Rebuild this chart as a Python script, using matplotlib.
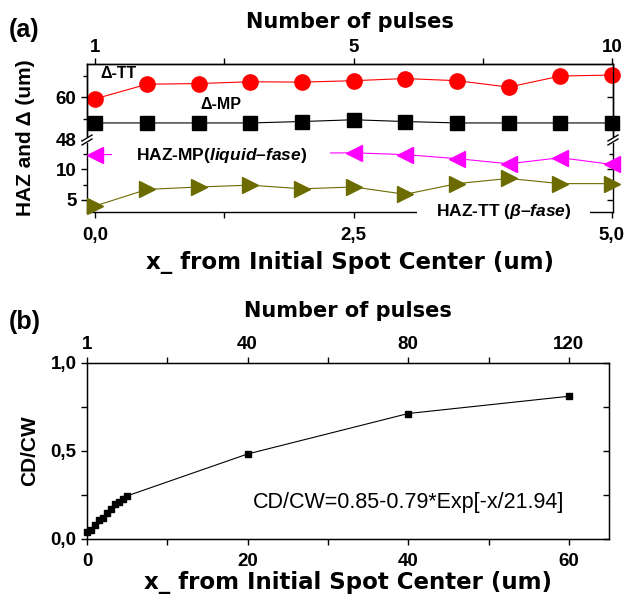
import numpy as np
import matplotlib
matplotlib.use('Agg')
import matplotlib.pyplot as plt
from matplotlib.lines import Line2D
from matplotlib.patches import Rectangle

plt.rcParams['font.family'] = ['Liberation Sans', 'DejaVu Sans']
plt.rcParams['font.weight'] = 'bold'
plt.rcParams['axes.labelweight'] = 'bold'
plt.rcParams['mathtext.fontset'] = 'custom'
plt.rcParams['mathtext.it'] = 'Liberation Sans:italic:bold'
plt.rcParams['mathtext.rm'] = 'Liberation Sans:bold'
plt.rcParams['mathtext.bf'] = 'Liberation Sans:bold'
wide = ['DejaVu Sans']

# ---- panel (a) data ----
x_a = [0.0, 0.5, 1.0, 1.5, 2.0, 2.5, 3.0, 3.5, 4.0, 4.5, 5.0]
delta_tt = [59.6, 63.7, 63.9, 64.4, 64.3, 64.7, 65.3, 64.7, 62.9, 66.0, 66.3]
delta_mp = [52.8, 52.8, 52.8, 52.8, 53.2, 53.7, 53.2, 52.8, 52.8, 52.8, 52.8]
x_hazmp = [0.0, 2.5, 3.0, 3.5, 4.0, 4.5, 5.0]
haz_mp = [12.4, 12.7, 12.4, 11.75, 10.9, 11.9, 10.8]
haz_tt = [4.0, 6.7, 7.1, 7.4, 6.8, 7.1, 5.9, 7.65, 8.5, 7.65, 7.65]
pulse_pos_a = [0.0, 2.5, 5.0]
pulse_lab_a = ['1', '5', '10']

# ---- panel (b) data ----
x_b = [0.0, 0.5, 1.0, 1.5, 2.0, 2.5, 3.0, 3.5, 4.0, 4.5, 5.0, 20, 40, 60]
cdcw = [0.04, 0.05, 0.08, 0.11, 0.12, 0.15, 0.17, 0.20, 0.21, 0.23, 0.245,
        0.483, 0.713, 0.811]
pulse_pos_b = [0, 20, 40, 60]
pulse_lab_b = ['1', '40', '80', '120']

W, H = 625, 599
fig = plt.figure(figsize=(W / 100, H / 100), dpi=100)


def fx(px):
    return px / W


def fy(py):
    return 1 - py / H


L, R = 87, 613
top_a, brk, bot_a = 64, 140, 212
ax_u = fig.add_axes([fx(L), fy(brk), fx(R) - fx(L), fy(top_a) - fy(brk)])
ax_l = fig.add_axes([fx(L), fy(bot_a), fx(R) - fx(L), fy(brk) - fy(bot_a)])

xlim_a = (-0.08, 5.01)
for ax in (ax_u, ax_l):
    ax.set_xlim(*xlim_a)
    for s in ax.spines.values():
        s.set_linewidth(1.0)
    ax.tick_params(axis='y', which='both', direction='out', length=4,
                   width=1, labelsize=13.5, right=True)
    ax.tick_params(axis='y', which='minor', length=3)
    ax.set_xticks([0, 2.5, 5.0])
    ax.set_xticks([1.25, 3.75], minor=True)

ax_u.spines['bottom'].set_visible(False)
ax_l.spines['top'].set_visible(False)
ax_u.tick_params(axis='x', which='both', bottom=False, labelbottom=False)
ax_l.tick_params(axis='x', which='both', direction='out', length=4, width=1,
                 labelsize=13.5, pad=7)

ax_u.set_ylim(48, 69.4)
ax_u.set_yticks([48, 60])
ax_u.set_yticks([54, 66], minor=True)
ax_l.set_ylim(3.0, 14.8)
ax_l.set_yticks([5, 10])
ax_l.set_yticks([7.5, 12.5], minor=True)
ax_l.set_xticklabels(['0,0', '2,5', '5,0'])

ax_u.plot(x_a, delta_tt, '-o', color='red', lw=0.8, ms=11, clip_on=False,
          zorder=5)
ax_u.plot(x_a, delta_mp, '-s', color='black', lw=0.8, ms=10, clip_on=False,
          zorder=5)
ax_l.plot(x_hazmp, haz_mp, '-<', color='magenta', lw=0.8, ms=12,
          clip_on=False, zorder=5)
ax_l.plot(x_a, haz_tt, '->', color='#6b6b00', lw=0.8, ms=12,
          clip_on=False, zorder=5)

ax_u.text(0.05, 66.6, 'Δ-TT', fontsize=11.5, ha='left', va='center')
ax_u.text(1.22, 58.0, 'Δ-MP', fontsize=11.5, ha='center', va='center')
# white box hiding the HAZ-MP line behind its label
ax_l.add_patch(Rectangle(((112 - L) / (R - L), 0.62), (330 - 112) / (R - L),
                         0.22, transform=ax_l.transAxes, facecolor='white',
                         edgecolor='none', zorder=7))
ax_l.text(1.22, 12.3, 'HAZ-MP($\\mathit{liquid–fase}$)', fontsize=12.5,
          ha='center', va='center', zorder=8)
# white gap in the bottom axis line behind the HAZ-TT label
ax_l.add_patch(Rectangle(((417 - L) / (R - L), -0.1), (590 - 417) / (R - L),
                         0.22, transform=ax_l.transAxes, facecolor='white',
                         edgecolor='none', clip_on=False, zorder=7))
ax_l.text(3.95, 3.0, 'HAZ-TT ($\\mathit{β–fase}$)', fontsize=12.5,
          ha='center', va='center', zorder=8, clip_on=False)

ax_l.set_xlabel('x_ from Initial Spot Center (um)', fontsize=16.5,
                family=wide, labelpad=5)
fig.text(fx(26), fy(138), 'HAZ and Δ (um)', rotation=90, fontsize=15,
         ha='center', va='center')

ax_t = ax_u.twiny()
ax_t.set_xlim(*xlim_a)
ax_t.set_xticks(pulse_pos_a)
ax_t.set_xticklabels(pulse_lab_a)
ax_t.set_xticks([1.25, 3.75], minor=True)
ax_t.tick_params(axis='x', which='both', direction='out', length=4, width=1,
                 labelsize=13.5, pad=2)
ax_t.set_xlabel('Number of pulses', fontsize=15, family=wide, labelpad=8)
for s in ax_t.spines.values():
    s.set_linewidth(1.0)
ax_t.spines['bottom'].set_visible(False)

# right-hand ticks point inward
for ax in (ax_u, ax_l):
    ax.yaxis.set_tick_params(which='both', right=True)
    for t in ax.yaxis.get_major_ticks() + ax.yaxis.get_minor_ticks():
        t.tick2line.set_marker(matplotlib.lines.TICKLEFT)

# axis break marks
for xb in (L, R):
    fig.add_artist(Rectangle((fx(xb - 5), fy(brk + 3)), fx(10), fy(brk - 3) - fy(brk + 3),
                             facecolor='white', edgecolor='none', zorder=10))
    for dy in (-2, 2):
        fig.add_artist(Line2D([fx(xb - 5), fx(xb + 5)],
                              [fy(brk + dy + 3), fy(brk + dy - 3)],
                              color='black', lw=1.0, zorder=11))

fig.text(fx(9), fy(30), '(a)', fontsize=18, ha='left', va='center')

# ---- panel (b) ----
Lb, Rb, top_b, bot_b = 87, 609, 363, 539
ax_b = fig.add_axes([fx(Lb), fy(bot_b), fx(Rb) - fx(Lb), fy(top_b) - fy(bot_b)])
ax_b.plot(x_b, cdcw, '-s', color='black', lw=0.8, ms=5, clip_on=False)
ax_b.set_xlim(0, 65)
ax_b.set_ylim(0, 1.0)
ax_b.set_xticks([0, 20, 40, 60])
ax_b.set_xticks([10, 30, 50], minor=True)
ax_b.set_yticks([0, 0.5, 1.0])
ax_b.set_yticklabels(['0,0', '0,5', '1,0'])
ax_b.set_yticks([0.25, 0.75], minor=True)
ax_b.tick_params(axis='both', which='both', direction='out', length=4,
                 width=1, labelsize=13.5)
ax_b.tick_params(axis='x', which='both', pad=6)
ax_b.yaxis.set_tick_params(which='both', right=True)
for t in ax_b.yaxis.get_major_ticks() + ax_b.yaxis.get_minor_ticks():
    t.tick2line.set_marker(matplotlib.lines.TICKLEFT)
for s in ax_b.spines.values():
    s.set_linewidth(1.0)
ax_b.set_xlabel('x_ from Initial Spot Center (um)', fontsize=16.5,
                family=wide, labelpad=1)
ax_b.set_ylabel('CD/CW', fontsize=15, labelpad=8)
ax_b.text(40, 0.205, 'CD/CW=0.85-0.79*Exp[-x/21.94]', fontsize=15.5,
          fontweight='normal', ha='center', va='center')

ax_bt = ax_b.twiny()
ax_bt.set_xlim(0, 65)
ax_bt.set_xticks(pulse_pos_b)
ax_bt.set_xticklabels(pulse_lab_b)
ax_bt.set_xticks([10, 30, 50], minor=True)
ax_bt.tick_params(axis='x', which='both', direction='out', length=4, width=1,
                  labelsize=13.5, pad=3)
ax_bt.set_xlabel('Number of pulses', fontsize=15, family=wide, labelpad=14)

fig.text(fx(9), fy(322), '(b)', fontsize=18, ha='left', va='center')

fig.savefig('out.png', dpi=100)
